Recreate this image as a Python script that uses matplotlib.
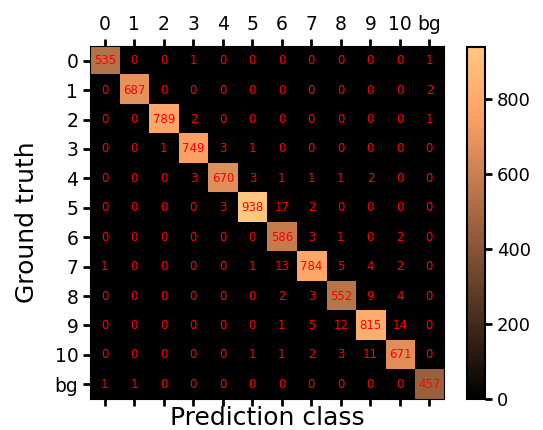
import numpy as np
import matplotlib
matplotlib.use("Agg")
import matplotlib.pyplot as plt

labels = ["0", "1", "2", "3", "4", "5", "6", "7", "8", "9", "10", "bg"]

row_0 = [535, 0, 0, 1, 0, 0, 0, 0, 0, 0, 0, 1]
row_1 = [0, 687, 0, 0, 0, 0, 0, 0, 0, 0, 0, 2]
row_2 = [0, 0, 789, 2, 0, 0, 0, 0, 0, 0, 0, 1]
row_3 = [0, 0, 1, 749, 3, 1, 0, 0, 0, 0, 0, 0]
row_4 = [0, 0, 0, 3, 670, 3, 1, 1, 1, 2, 0, 0]
row_5 = [0, 0, 0, 0, 3, 938, 17, 2, 0, 0, 0, 0]
row_6 = [0, 0, 0, 0, 0, 0, 586, 3, 1, 0, 2, 0]
row_7 = [1, 0, 0, 0, 0, 1, 13, 784, 5, 4, 2, 0]
row_8 = [0, 0, 0, 0, 0, 0, 2, 3, 552, 9, 4, 0]
row_9 = [0, 0, 0, 0, 0, 0, 1, 5, 12, 815, 14, 0]
row_10 = [0, 0, 0, 0, 0, 1, 1, 2, 3, 11, 671, 0]
row_bg = [1, 1, 0, 0, 0, 0, 0, 0, 0, 0, 0, 457]

cm = np.array([row_0, row_1, row_2, row_3, row_4, row_5,
               row_6, row_7, row_8, row_9, row_10, row_bg])

fig = plt.figure(figsize=(5.43, 4.3), dpi=100)
ax = fig.add_axes([0.166, 0.072, 0.652, 0.821])
cax = fig.add_axes([0.860, 0.072, 0.033, 0.819])

im = ax.imshow(cm, cmap="copper", aspect="auto")
cb = fig.colorbar(im, cax=cax)
cb.set_ticks([0, 200, 400, 600, 800])
cb.ax.tick_params(labelsize=13, width=2, length=5)
cb.outline.set_linewidth(1.5)

n = len(labels)
for i in range(n):
    for j in range(n):
        ax.text(j, i, str(cm[i, j]), ha="center", va="center",
                color="red", fontsize=8.5)

ax.set_xticks(range(n))
ax.set_yticks(range(n))
ax.set_xticklabels(labels, fontsize=13.5)
ax.set_yticklabels(labels, fontsize=13.5)
ax.tick_params(axis="x", top=True, labeltop=True, bottom=True,
               labelbottom=False, width=2, length=5)
ax.tick_params(axis="y", width=2, length=5)
ax.set_xlabel("Prediction class", fontsize=18, labelpad=0)
ax.set_ylabel("Ground truth", fontsize=18, labelpad=11)

fig.savefig("out.png", dpi=100)
